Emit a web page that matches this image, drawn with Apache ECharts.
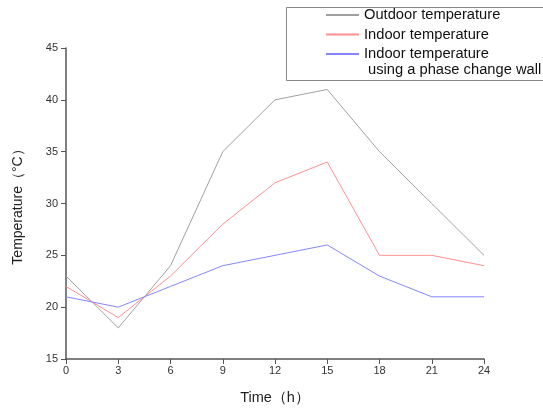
<!DOCTYPE html>
<html><head><meta charset="utf-8">
<script src="https://cdn.jsdelivr.net/npm/echarts@6/dist/echarts.min.js"></script>
<style>html,body{margin:0;padding:0;background:#fff}#c{width:543px;height:409px}</style>
</head><body><div id="c"></div>
<script>
const hours = [0, 3, 6, 9, 12, 15, 18, 21, 24];
const outdoor = [23, 18, 24, 35, 40, 41, 35, 30, 25];
const indoor = [22, 19, 23, 28, 32, 34, 25, 25, 24];
const indoorPCM = [21, 20, 22, 24, 25, 26, 23, 21, 21];
const seriesNames = ['Outdoor temperature', 'Indoor temperature', 'Indoor temperature\n using a phase change wall'];
const xName = 'Time（h）';
const yName = 'Temperature（°C）';

const font = 'Liberation Sans, Arial, sans-serif';
const chart = echarts.init(document.getElementById('c'));
const mk = (name, vals, color) => ({
  name, type: 'line', data: hours.map((h, i) => [h, vals[i]]),
  symbol: 'none', lineStyle: { color, width: 1 }, itemStyle: { color }, animation: false
});
chart.setOption({
  animation: false,
  grid: { left: 66, right: 59, top: 48, bottom: 50, containLabel: false, outerBoundsMode: 'none' },
  xAxis: {
    type: 'value', min: 0, max: 24, interval: 3,
    name: xName, nameLocation: 'middle', nameGap: 31,
    nameTextStyle: { fontFamily: font, fontSize: 14.5, color: '#222' },
    axisLine: { lineStyle: { color: '#555', width: 1.5 } },
    axisTick: { show: true, length: 5, lineStyle: { color: '#555' } },
    axisLabel: { fontFamily: font, fontSize: 11, color: '#333', margin: 6 },
    splitLine: { show: false }
  },
  yAxis: {
    type: 'value', min: 15, max: 45, interval: 5,
    name: yName, nameLocation: 'middle', nameGap: 41, nameRotate: 90,
    nameTextStyle: { fontFamily: font, fontSize: 14, color: '#222' },
    axisLine: { show: true, lineStyle: { color: '#555', width: 1.5 } },
    axisTick: { show: true, length: 5, lineStyle: { color: '#555' } },
    axisLabel: { fontFamily: font, fontSize: 11, color: '#333', margin: 8 },
    splitLine: { show: false }
  },
  legend: {
    orient: 'vertical', left: 325, top: 7.5,
    padding: 0,
    itemWidth: 33, itemHeight: 14, itemGap: 4.5,
    itemStyle: { opacity: 0 },
    formatter: n => n.split('\n')[0],
    textStyle: { fontFamily: font, fontSize: 14.7, color: '#111' },
    data: seriesNames.map(n => ({ name: n }))
  },
  graphic: [
    { type: 'rect', left: 284, top: 5, shape: { width: 257, height: 73 },
      style: { fill: 'none', stroke: '#888', lineWidth: 1 }, z: 0 },
    { type: 'text', left: 364, top: 62,
      style: { text: seriesNames[2].split('\n')[1], font: '14.7px ' + font, fill: '#111' } }
  ],
  series: [
    mk(seriesNames[0], outdoor, '#a0a0a0'),
    mk(seriesNames[1], indoor, '#ff9090'),
    mk(seriesNames[2], indoorPCM, '#8585ff')
  ]
});
</script></body></html>
